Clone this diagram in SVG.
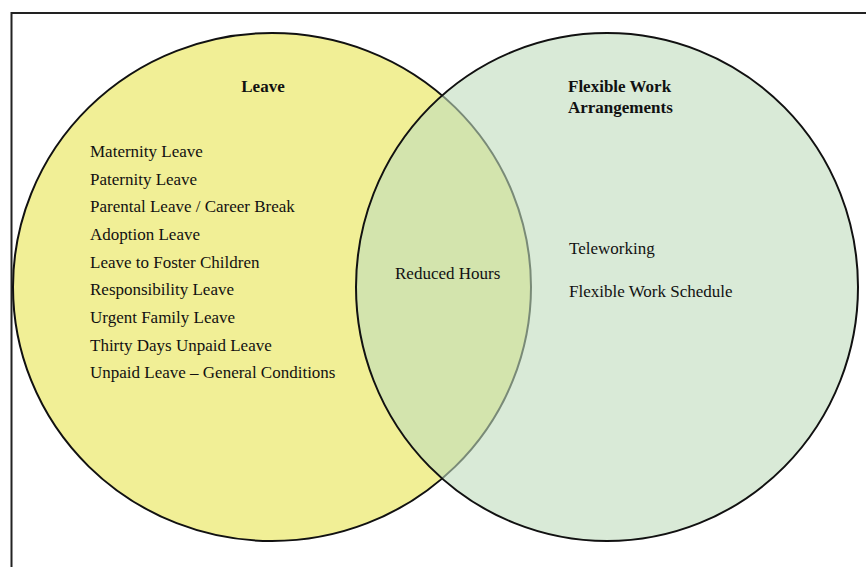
<svg xmlns="http://www.w3.org/2000/svg" width="866" height="567" viewBox="0 0 866 567">
<style>
text{font-family:"Liberation Serif","Times New Roman",serif;font-size:17px;fill:#111}
.b{font-weight:bold;font-size:17px}
.c{stroke:#111;stroke-width:2}
</style>
<rect x="0" y="0" width="866" height="567" fill="#fff"/>
<rect x="11.5" y="13" width="870" height="580" fill="none" stroke="#222" stroke-width="2"/>
<g id="leave">
<ellipse class="c" cx="272" cy="287" rx="259" ry="254" fill="#f1ef96"/>
</g>
<g id="flexible">
<ellipse class="c" cx="607" cy="287" rx="251" ry="254" fill="rgb(192,220,188)" fill-opacity="0.6"/>
</g>
<g id="leave-text">
<text class="b" x="263" y="92" text-anchor="middle">Leave</text>
<text x="90" y="157">Maternity Leave</text>
<text x="90" y="185">Paternity Leave</text>
<text x="90" y="212">Parental Leave / Career Break</text>
<text x="90" y="240">Adoption Leave</text>
<text x="90" y="268">Leave to Foster Children</text>
<text x="90" y="295">Responsibility Leave</text>
<text x="90" y="323">Urgent Family Leave</text>
<text x="90" y="351">Thirty Days Unpaid Leave</text>
<text x="90" y="378">Unpaid Leave – General Conditions</text>
</g>
<g id="overlap-text">
<text x="395" y="279">Reduced Hours</text>
</g>
<g id="flex-text">
<text class="b" x="568" y="92">Flexible Work</text>
<text class="b" x="568" y="113">Arrangements</text>
<text x="569" y="254">Teleworking</text>
<text x="569" y="297">Flexible Work Schedule</text>
</g>
<g id="connectors"></g>
</svg>
